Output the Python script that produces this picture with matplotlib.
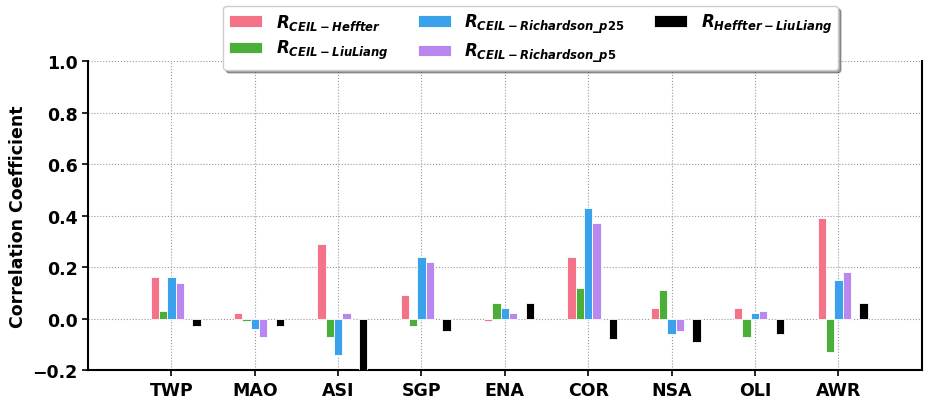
import numpy as np
import matplotlib
matplotlib.use('Agg')
import matplotlib.pyplot as plt

plt.rcParams['font.family'] = ['DejaVu Sans']
plt.rcParams['font.weight'] = 'bold'
plt.rcParams['mathtext.fontset'] = 'custom'
plt.rcParams['mathtext.it'] = 'DejaVu Sans:italic:bold'
plt.rcParams['mathtext.rm'] = 'DejaVu Sans:bold'
plt.rcParams['mathtext.bf'] = 'DejaVu Sans:italic:bold'

sites = ['TWP', 'MAO', 'ASI', 'SGP', 'ENA', 'COR', 'NSA', 'OLI', 'AWR']
r_ceil_heffter = [0.16, 0.02, 0.29, 0.09, -0.01, 0.24, 0.04, 0.04, 0.39]
r_ceil_liuliang = [0.03, -0.01, -0.07, -0.03, 0.06, 0.12, 0.11, -0.07, -0.13]
r_ceil_rich25 = [0.16, -0.04, -0.14, 0.24, 0.04, 0.43, -0.06, 0.02, 0.15]
r_ceil_rich5 = [0.14, -0.07, 0.02, 0.22, 0.02, 0.37, -0.05, 0.03, 0.18]
r_heffter_liuliang = [-0.03, -0.03, -0.21, -0.05, 0.06, -0.08, -0.09, -0.06, 0.06]

labels = [r'$R_{CEIL-Heffter}$', r'$R_{CEIL-LiuLiang}$',
          r'$R_{CEIL-Richardson\_p25}$', r'$R_{CEIL-Richardson\_p5}$',
          r'$R_{Heffter-LiuLiang}$']
colors = ['#f47389', '#4aae38', '#3aa2ea', '#b987f0', '#000000']
offsets = [-0.2, -0.1, 0.0, 0.1, 0.3]
series = [r_ceil_heffter, r_ceil_liuliang, r_ceil_rich25, r_ceil_rich5, r_heffter_liuliang]

fig = plt.figure(figsize=(9.3, 4.06), dpi=100)
ax = fig.add_axes([0.0946, 0.086, 0.8965, 0.761])
x = np.arange(len(sites))
for vals, c, off, lab in zip(series, colors, offsets, labels):
    ax.bar(x + off, vals, width=0.1, color=c, label=lab,
           edgecolor='white', linewidth=0.6, zorder=3)

ax.set_xlim(-1, 9)
ax.set_ylim(-0.2, 1.0)
ax.set_xticks(x)
ax.set_xticklabels(sites, fontsize=12.5, fontweight='bold')
yt = np.arange(-0.2, 1.01, 0.2)
ax.set_yticks(yt)
ax.set_yticklabels([f'{v:.1f}'.replace('-', '\u2212') for v in yt],
                   fontsize=12.5, fontweight='bold')
ax.set_ylabel('Correlation Coefficient', fontsize=12.5, fontweight='bold')
ax.grid(True, linestyle=':', color='#999999', linewidth=0.8, zorder=0)
for s in ax.spines.values():
    s.set_linewidth(1.5)
ax.spines['top'].set_visible(False)
ax.tick_params(width=1.2, length=4)

leg = ax.legend(loc='upper center', bbox_to_anchor=(0.531, 1.178), ncol=3,
                fontsize=12, shadow=True, fancybox=True, frameon=True,
                handlelength=2.0, columnspacing=1.75, handletextpad=0.8,
                borderpad=0.35, labelspacing=0.35, borderaxespad=0)
leg.set_zorder(10)

fig.savefig('out.png', dpi=100)
